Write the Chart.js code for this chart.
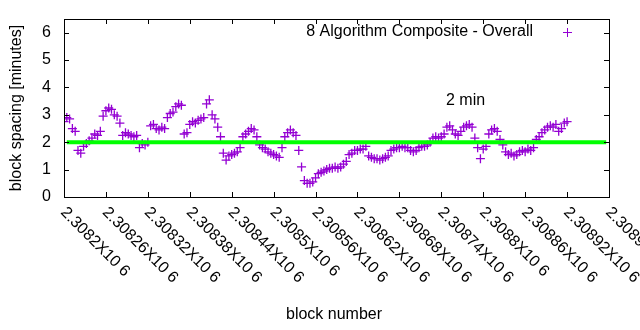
<!DOCTYPE html>
<html>
<head>
<meta charset="utf-8">
<script src="https://cdn.jsdelivr.net/npm/chart.js@4.4.0/dist/chart.umd.min.js"></script>
<style>
    body { margin: 0; background: #fff; }
    canvas { display: block; }
</style>
</head>
<body>
<canvas id="spacingChart" width="640" height="330"></canvas>
<script>
// block spacing, one value every 4 blocks
const blockStart = 2308200;
const blockStep = 4;
const spacing = [
    2.75, 2.9, 2.85, 2.5, 2.4, 1.7, 1.6, 1.85, 1.95, 2.05,
    2.15, 2.3, 2.25, 2.4, 2.95, 3.15, 3.25, 3.2, 3.0, 2.95,
    2.7, 2.25, 2.35, 2.3, 2.25, 2.2, 2.25, 1.8, 1.95, 1.9,
    2.0, 2.6, 2.65, 2.5, 2.45, 2.55, 2.5, 2.9, 3.05, 3.1,
    3.3, 3.4, 3.35, 2.3, 2.35, 2.65, 2.75, 2.7, 2.8, 2.85,
    2.9, 3.4, 3.55, 3.0, 2.85, 2.55, 2.2, 1.6, 1.35, 1.5,
    1.55, 1.6, 1.65, 1.8, 2.2, 2.3, 2.4, 2.5, 2.45, 2.2,
    1.9, 1.8, 1.75, 1.65, 1.6, 1.55, 1.5, 1.45, 1.8, 2.2,
    2.35, 2.45, 2.35, 2.25, 1.7, 1.1, 0.6, 0.5, 0.5, 0.55,
    0.7, 0.85, 0.9, 0.95, 1.0, 1.05, 1.05, 1.1, 1.05, 1.1,
    1.2, 1.3, 1.55, 1.6, 1.7, 1.7, 1.75, 1.75, 1.85, 1.5,
    1.45, 1.4, 1.4, 1.35, 1.4, 1.45, 1.5, 1.7, 1.75, 1.8,
    1.8, 1.85, 1.8, 1.8, 1.7, 1.65, 1.7, 1.8, 1.85, 1.85,
    1.9, 2.0, 2.15, 2.2, 2.15, 2.2, 2.3, 2.55, 2.6, 2.45,
    2.3, 2.25, 2.4, 2.55, 2.6, 2.65, 2.55, 2.15, 1.8, 1.4,
    1.75, 1.85, 2.3, 2.45, 2.5, 2.4, 2.1, 1.9, 1.65, 1.55,
    1.6, 1.5, 1.55, 1.65, 1.7, 1.65, 1.75, 1.7, 1.8, 2.1,
    2.2, 2.35, 2.45, 2.55, 2.6, 2.55, 2.65, 2.4, 2.5, 2.7,
    2.75,
];
const targetBlocks = [2308204, 2308976];
const targetSpacing = [2, 2];

const xTicks = [2308200, 2308260, 2308320, 2308380, 2308440, 2308500, 2308560,
    2308620, 2308680, 2308740, 2308800, 2308860, 2308920, 2308980];
const xTickLabels = ['2.3082', '2.30826', '2.30832', '2.30838', '2.30844', '2.3085', '2.30856',
    '2.30862', '2.30868', '2.30874', '2.3088', '2.30886', '2.30892', '2.30898'];
const yTicks = [0, 1, 2, 3, 4, 5, 6];

const purple = '#9400d3';
const font = '16px "Liberation Sans", Arial, sans-serif';

const points = spacing.map((v, i) => ({ x: blockStart + i * blockStep, y: v }));
const target = targetBlocks.map((b, i) => ({ x: b, y: targetSpacing[i] }));

const frame = {
    id: 'frame',
    afterDraw(chart) {
        const ctx = chart.ctx;
        const area = chart.chartArea;
        const xs = chart.scales.x;
        const ys = chart.scales.y;
        ctx.save();
        ctx.strokeStyle = '#000';
        ctx.lineWidth = 1;
        ctx.strokeRect(area.left + 0.5, area.top + 0.5, area.right - area.left, area.bottom - area.top);

        ctx.beginPath();
        for (const t of xTicks) {
            const px = Math.round(xs.getPixelForValue(t)) + 0.5;
            ctx.moveTo(px, area.bottom);
            ctx.lineTo(px, area.bottom - 5);
            ctx.moveTo(px, area.top);
            ctx.lineTo(px, area.top + 5);
        }
        for (const t of yTicks) {
            const py = Math.round(ys.getPixelForValue(t)) + 0.5;
            ctx.moveTo(area.left, py);
            ctx.lineTo(area.left + 5, py);
            ctx.moveTo(area.right, py);
            ctx.lineTo(area.right - 5, py);
        }
        ctx.stroke();

        ctx.fillStyle = '#000';
        ctx.font = font;
        ctx.textAlign = 'right';
        ctx.textBaseline = 'middle';
        for (const t of yTicks) {
            ctx.fillText(String(t), area.left - 13, ys.getPixelForValue(t));
        }

        ctx.textAlign = 'left';
        xTicks.forEach((t, i) => {
            ctx.save();
            ctx.translate(xs.getPixelForValue(t) - 1, area.bottom + 13);
            ctx.rotate(Math.PI / 4);
            ctx.fillText(xTickLabels[i] + 'X10 6', 0, 0);
            ctx.restore();
        });

        ctx.textAlign = 'center';
        ctx.fillText('block number', 334, 315);
        ctx.save();
        ctx.translate(17, (area.top + area.bottom) / 2);
        ctx.rotate(-Math.PI / 2);
        ctx.fillText('block spacing [minutes]', 0, 0);
        ctx.restore();

        ctx.textAlign = 'right';
        ctx.fillText('8 Algorithm Composite - Overall', 533, 32);
        ctx.textAlign = 'left';
        ctx.fillText('2 min', 446, 101);

        ctx.strokeStyle = purple;
        ctx.beginPath();
        ctx.moveTo(563, 32.5);
        ctx.lineTo(572, 32.5);
        ctx.moveTo(567.5, 28);
        ctx.lineTo(567.5, 37);
        ctx.stroke();
        ctx.restore();
    },
};

const ctx = document.getElementById('spacingChart').getContext('2d');
new Chart(ctx, {
    type: 'scatter',
    data: {
        datasets: [
            {
                type: 'line',
                label: '2 min',
                data: target,
                borderColor: '#00ff00',
                borderWidth: 4,
                pointRadius: 0,
                order: 0,
            },
            {
                label: '8 Algorithm Composite - Overall',
                data: points,
                pointStyle: 'cross',
                pointRadius: 4.5,
                borderColor: purple,
                backgroundColor: purple,
                borderWidth: 1.3,
                order: 1,
            },
        ],
    },
    options: {
        responsive: false,
        animation: false,
        layout: { padding: { left: 64, right: 31, top: 19, bottom: 133 } },
        plugins: { legend: { display: false }, tooltip: { enabled: false } },
        scales: {
            x: { type: 'linear', min: 2308200, max: 2308980, display: false },
            y: { type: 'linear', min: 0, max: 6.5, display: false },
        },
    },
    plugins: [frame],
});
</script>
</body>
</html>
